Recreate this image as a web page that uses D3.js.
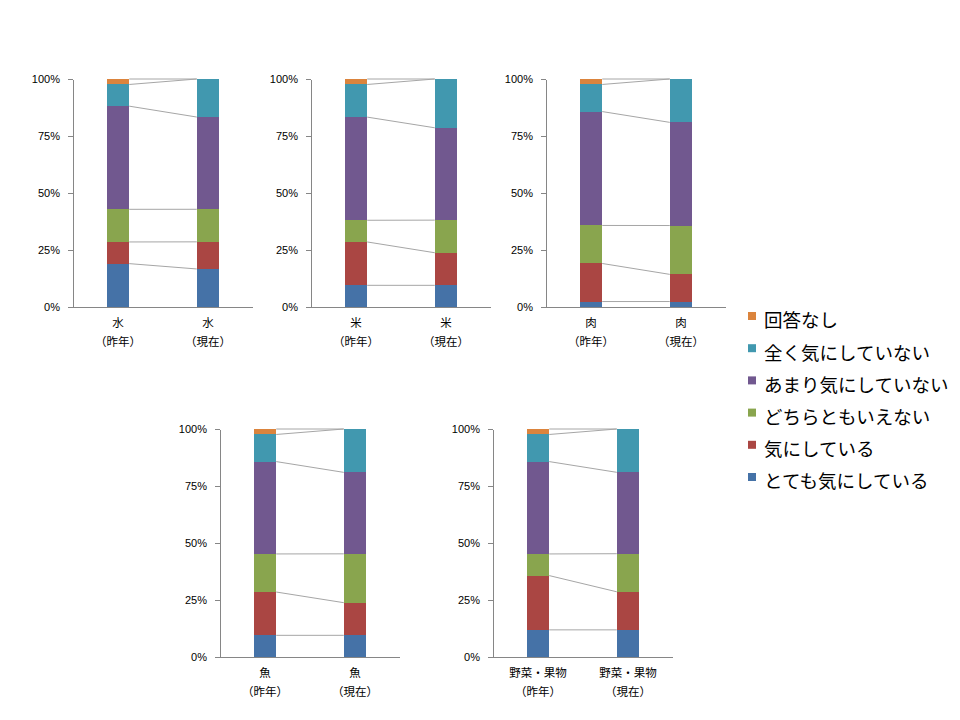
<!DOCTYPE html>
<html lang="ja">
  <head>
    <meta charset="UTF-8" />
    <title>食品の気にしている度合い</title>
    <style>
      body { margin: 0; background: #fff; }
      svg { display: block; font-family: "Noto Sans CJK JP", "Noto Sans", sans-serif; }
      .axis path, .axis line { stroke: #868686; shape-rendering: crispEdges; }
      .axis text { fill: #000; font-size: 11px; }
    </style>
  </head>
  <body>
    <svg width="960" height="720"></svg>

    <script src="https://d3js.org/d3.v7.min.js"></script>
    <script>
      // categories / series
      const foods = ["水", "米", "肉", "魚", "野菜・果物"];
      const periods = ["（昨年）", "（現在）"];
      const seriesNames = [
        "とても気にしている",
        "気にしている",
        "どちらともいえない",
        "あまり気にしていない",
        "全く気にしていない",
        "回答なし",
      ];
      const colors = ["#4572A7", "#AA4643", "#89A54E", "#71588F", "#4198AF", "#DB843D"];
      const yTicks = [0, 0.25, 0.5, 0.75, 1];

      // percentages, [昨年, 現在], series in order above
      const water = [
        [19.0, 9.5, 14.3, 45.2, 9.5, 2.4],
        [16.7, 11.9, 14.3, 40.5, 16.7, 0],
      ];
      const rice = [
        [9.5, 19.0, 9.5, 45.2, 14.3, 2.4],
        [9.5, 14.3, 14.3, 40.5, 21.4, 0],
      ];
      const meat = [
        [2.4, 16.7, 16.7, 50.0, 11.9, 2.4],
        [2.4, 11.9, 21.4, 45.2, 19.0, 0],
      ];
      const fish = [
        [9.5, 19.0, 16.7, 40.5, 11.9, 2.4],
        [9.5, 14.3, 21.4, 35.7, 19.0, 0],
      ];
      const veg = [
        [11.9, 23.8, 9.5, 40.5, 11.9, 2.4],
        [11.9, 16.7, 16.7, 35.7, 19.0, 0],
      ];
      const foodValues = [water, rice, meat, fish, veg];

      // panel layout (plot area of each small chart)
      const panels = [
        { x: 73, top: 79, bottom: 307 },
        { x: 311, top: 79, bottom: 307 },
        { x: 546, top: 79, bottom: 307 },
        { x: 220, top: 429, bottom: 657 },
        { x: 493, top: 429, bottom: 657 },
      ];
      const panelWidth = 180;

      const svg = d3.select("svg");
      const keys = d3.range(seriesNames.length);
      const stack = d3.stack().keys(keys).offset(d3.stackOffsetExpand);

      foods.forEach((food, fi) => {
        const p = panels[fi];
        const rows = foodValues[fi].map((vals, pi) => {
          const row = { period: periods[pi] };
          vals.forEach((v, k) => (row[k] = v));
          return row;
        });
        const layers = stack(rows);

        const x = d3.scaleBand().domain(periods).range([p.x, p.x + panelWidth]);
        const y = d3.scaleLinear().domain([0, 1]).range([p.bottom, p.top]);
        const barW = x.bandwidth() / 4;
        const barX = (d) => x(d.data.period) + (x.bandwidth() - barW) / 2;

        const g = svg.append("g");

        // series lines between the two bars
        g.append("g")
          .selectAll("line")
          .data(layers)
          .join("line")
          .attr("x1", (L) => barX(L[0]) + barW)
          .attr("x2", (L) => barX(L[1]))
          .attr("y1", (L) => y(L[0][1]))
          .attr("y2", (L) => y(L[1][1]))
          .attr("stroke", "#a6a6a6")
          .attr("stroke-width", 1);

        // bars
        g.append("g")
          .selectAll("g")
          .data(layers)
          .join("g")
          .attr("fill", (L) => colors[L.key])
          .selectAll("rect")
          .data((L) => L)
          .join("rect")
          .attr("x", barX)
          .attr("width", barW)
          .attr("y", (d) => y(d[1]))
          .attr("height", (d) => y(d[0]) - y(d[1]))
          .attr("shape-rendering", "crispEdges");

        // axes
        g.append("g")
          .attr("class", "axis")
          .attr("transform", `translate(${p.x},0)`)
          .call(
            d3.axisLeft(y).tickValues(yTicks).tickFormat(d3.format(".0%"))
              .tickSizeInner(5).tickSizeOuter(0).tickPadding(8)
          );

        g.append("line")
          .attr("x1", p.x)
          .attr("x2", p.x + panelWidth)
          .attr("y1", p.bottom + 0.5)
          .attr("y2", p.bottom + 0.5)
          .attr("stroke", "#868686");

        // category labels (two lines)
        const lab = g.append("g")
          .selectAll("text")
          .data(periods)
          .join("text")
          .attr("x", (d) => x(d) + x.bandwidth() / 2)
          .attr("text-anchor", "middle")
          .attr("font-size", 11.5)
          .attr("fill", "#000");
        lab.append("tspan")
          .attr("x", (d) => x(d) + x.bandwidth() / 2)
          .attr("y", p.bottom + 20)
          .text(food);
        lab.append("tspan")
          .attr("x", (d) => x(d) + x.bandwidth() / 2)
          .attr("y", p.bottom + 39)
          .text((d) => d);
      });

      // legend (top entry = top of stack)
      const legendItems = keys.slice().reverse();
      const legend = svg.append("g")
        .selectAll("g")
        .data(legendItems)
        .join("g")
        .attr("transform", (d, i) => `translate(748,${321 + i * 32.2})`);
      legend.append("rect")
        .attr("y", -9)
        .attr("width", 8)
        .attr("height", 8)
        .attr("fill", (d) => colors[d]);
      legend.append("text")
        .attr("x", 16)
        .attr("dy", "0.35em")
        .attr("font-size", 18.5)
        .attr("fill", "#000")
        .text((d) => seriesNames[d]);
    </script>
  </body>
</html>
